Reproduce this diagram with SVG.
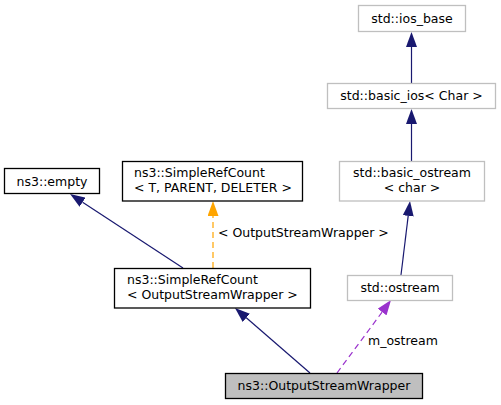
<svg xmlns="http://www.w3.org/2000/svg" width="501" height="405" viewBox="0 0 501 405">
<style>
text{font-family:"DejaVu Sans","Liberation Sans",sans-serif;font-size:12.5px;fill:#000}
.b{fill:#fff;stroke:#000;stroke-width:1.3}
.g{fill:#fff;stroke:#bfbfbf;stroke-width:1.3}
.h{fill:#bfbfbf;stroke:#000;stroke-width:1.3}
.c{text-anchor:middle}
.inh{fill:none;stroke:#191970;stroke-width:1.2;marker-end:url(#an)}
.tpl{fill:none;stroke:#ffa500;stroke-width:1.2;stroke-dasharray:6,4;marker-end:url(#ao)}
.use{fill:none;stroke:#9a32cd;stroke-width:1.2;stroke-dasharray:6,4;marker-end:url(#ap)}
</style>
<defs>
<marker id="an" viewBox="0 0 15 11" refX="0" refY="5.5" markerWidth="15" markerHeight="11" markerUnits="userSpaceOnUse" orient="auto"><path d="M0,0 L15,5.5 L0,11 z" fill="#191970"/></marker>
<marker id="ao" viewBox="0 0 15 11" refX="0" refY="5.5" markerWidth="15" markerHeight="11" markerUnits="userSpaceOnUse" orient="auto"><path d="M0,0 L15,5.5 L0,11 z" fill="#ffa500"/></marker>
<marker id="ap" viewBox="0 0 15 11" refX="0" refY="5.5" markerWidth="15" markerHeight="11" markerUnits="userSpaceOnUse" orient="auto"><path d="M0,0 L15,5.5 L0,11 z" fill="#9a32cd"/></marker>
</defs>
<rect width="501" height="405" fill="#fff"/>
<g id="edges">
<path class="inh" d="M411.5,83.5 L411.5,47"/>
<path class="inh" d="M411.5,161 L411.5,124"/>
<path class="inh" d="M401,275 L408.2,215.9"/>
<path class="inh" d="M310,373 L246.3,317.8"/>
<path class="inh" d="M183,268 L82.6,202.2"/>
<path class="tpl" d="M213,268 L213,216"/>
<text x="218" y="237">&lt; OutputStreamWrapper &gt;</text>
<path class="use" d="M337,373 L382.1,312.1"/>
<text x="368" y="345">m_ostream</text>
</g>
<g id="ios_base"><rect class="g" x="358.5" y="5.5" width="107" height="26"/><text class="c" x="412" y="22.5">std::ios_base</text></g>
<g id="basic_ios"><rect class="g" x="327.5" y="83.5" width="168" height="25"/><text class="c" x="411.5" y="100">std::basic_ios&lt; Char &gt;</text></g>
<g id="basic_ostream"><rect class="g" x="339.5" y="161.5" width="145" height="39.5"/><text class="c" x="412" y="177">std::basic_ostream</text><text class="c" x="412" y="191.5">&lt; char &gt;</text></g>
<g id="ostream"><rect class="g" x="347.5" y="275.5" width="105" height="25"/><text class="c" x="400" y="292">std::ostream</text></g>
<g id="empty"><rect class="b" x="4.5" y="168.5" width="95" height="25"/><text class="c" x="52" y="185.5">ns3::empty</text></g>
<g id="SimpleRefCountT"><rect class="b" x="122.5" y="161.5" width="180" height="39.5"/><text x="134" y="177">ns3::SimpleRefCount</text><text x="134" y="191.5">&lt; T, PARENT, DELETER &gt;</text></g>
<g id="SimpleRefCountOSW"><rect class="b" x="114.5" y="268.5" width="196" height="39.5"/><text x="127" y="284">ns3::SimpleRefCount</text><text x="127" y="298.5">&lt; OutputStreamWrapper &gt;</text></g>
<g id="OutputStreamWrapper"><rect class="h" x="225.5" y="373.5" width="197" height="25"/><text class="c" x="324" y="390">ns3::OutputStreamWrapper</text></g>
</svg>
